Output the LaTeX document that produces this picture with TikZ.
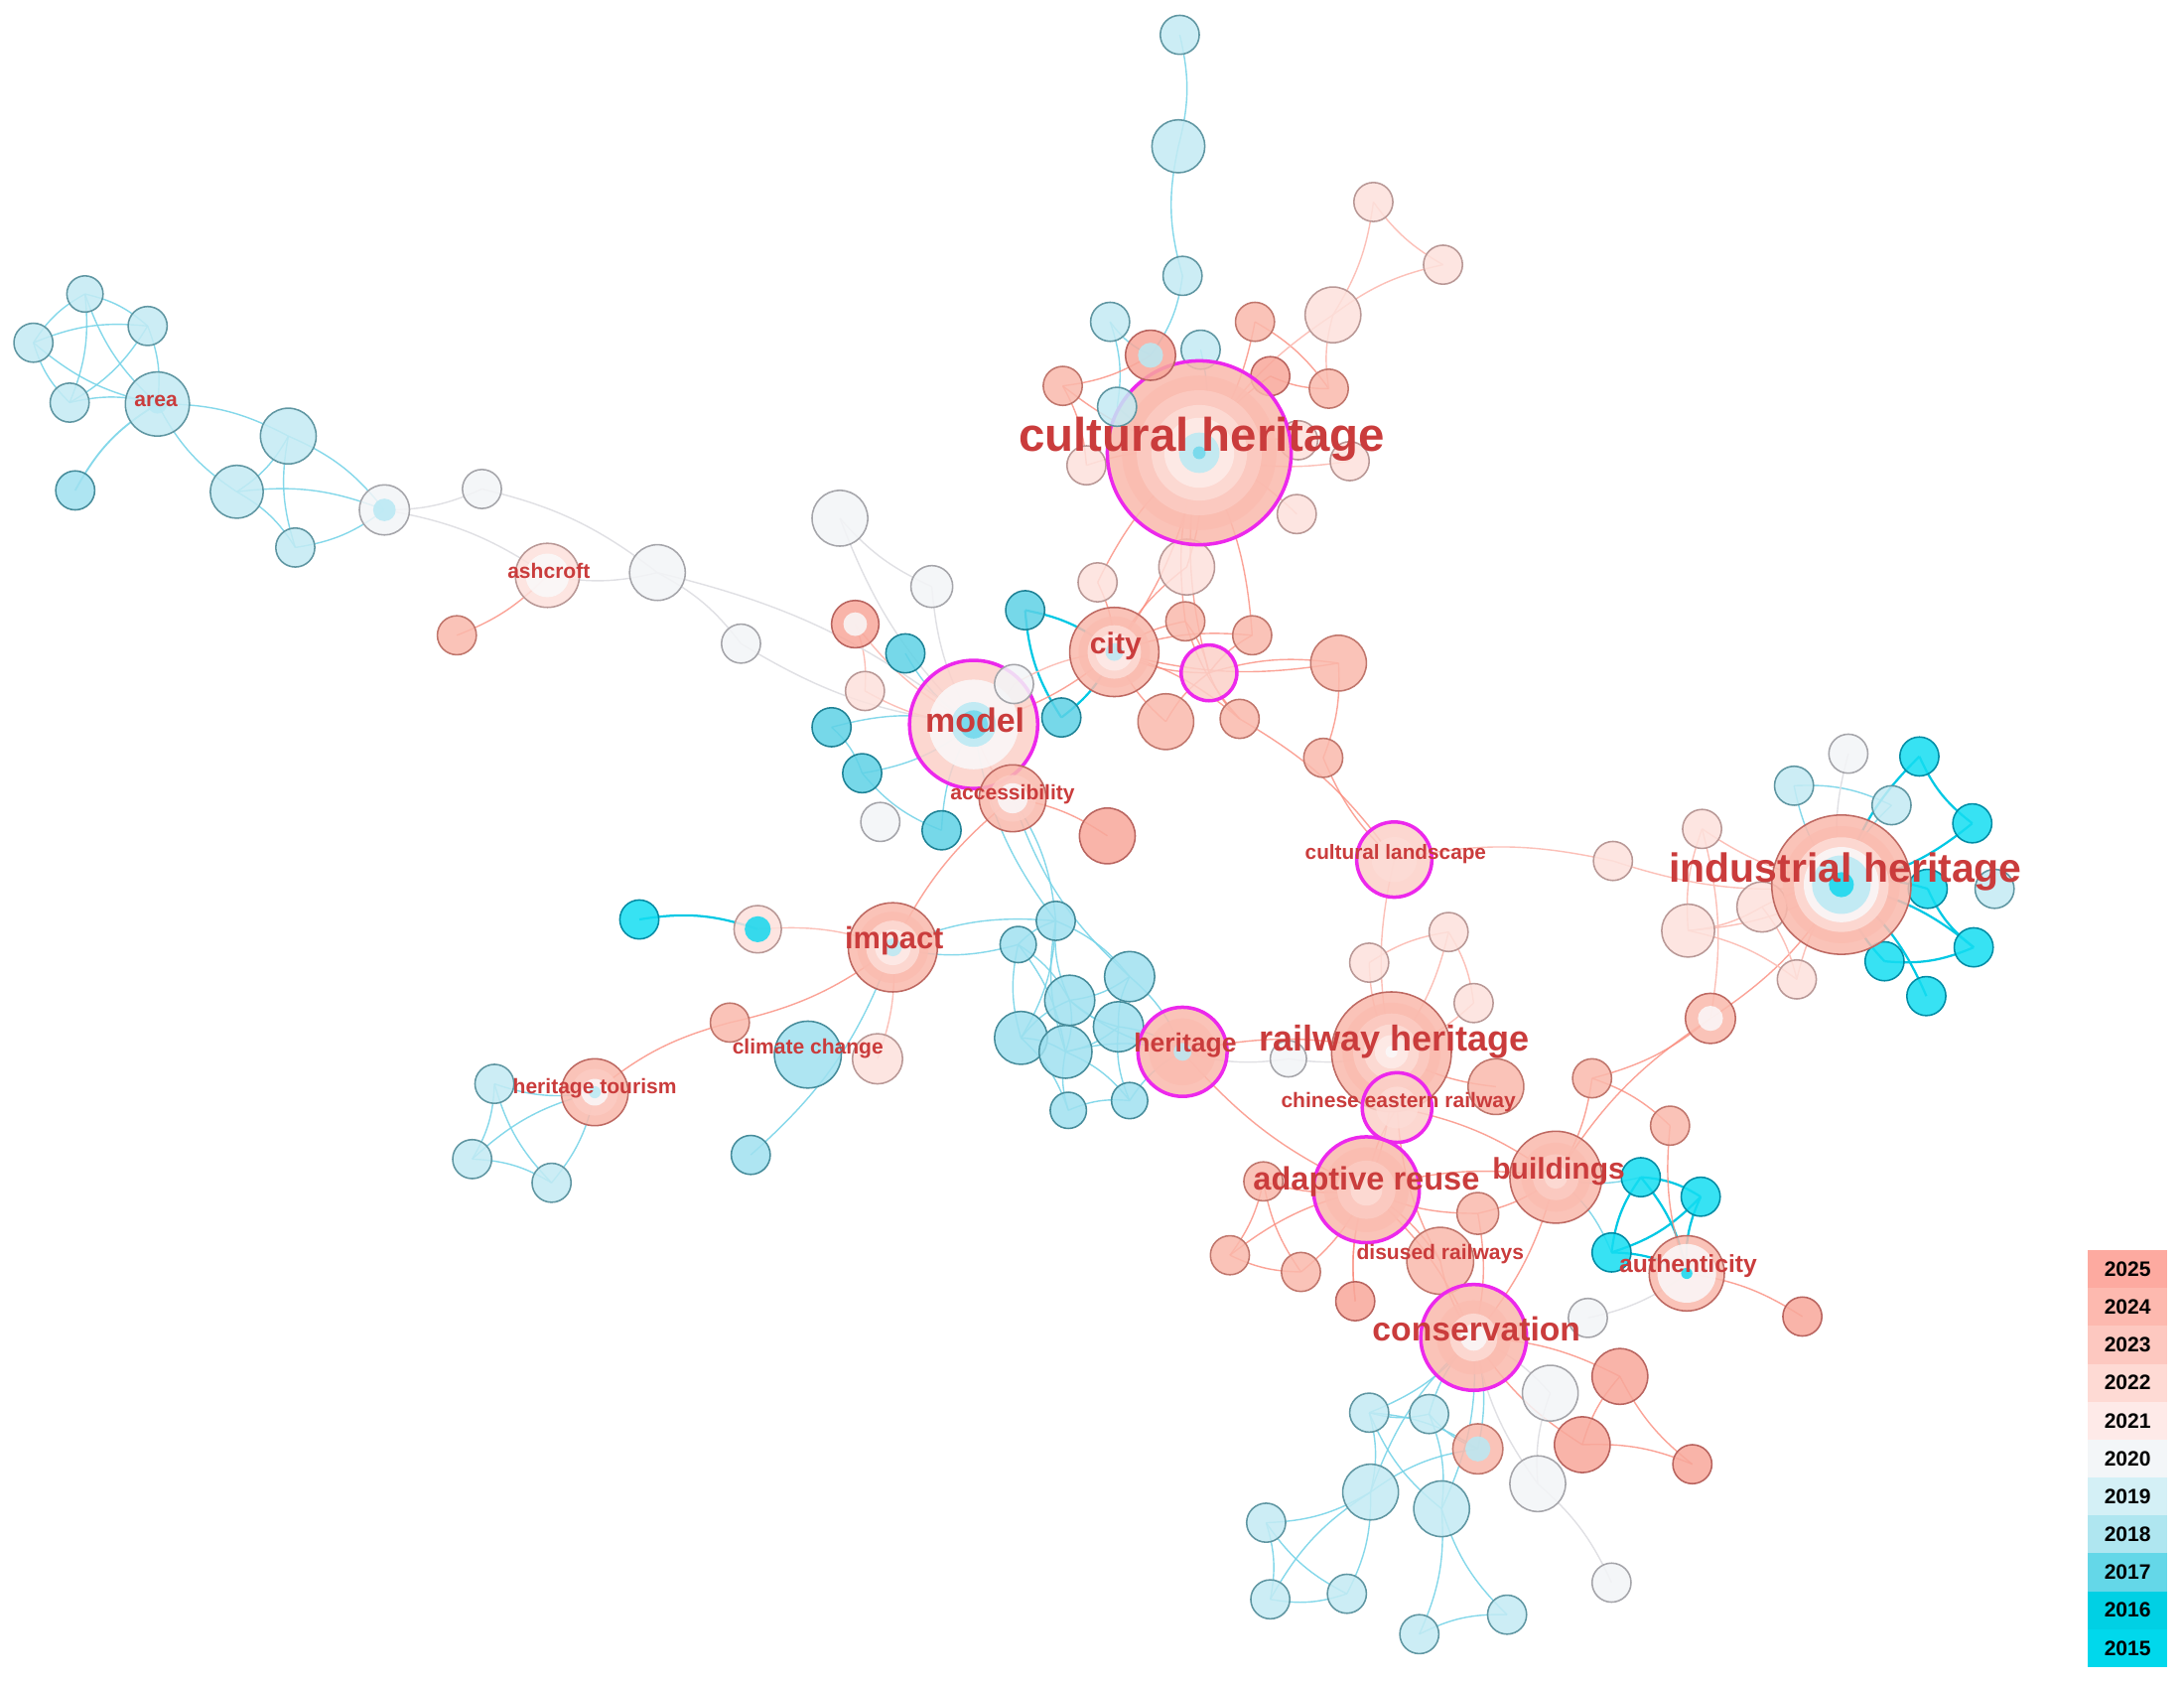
\documentclass[tikz,border=0pt]{standalone}
\usepackage{fontspec}
\setmainfont{Liberation Sans}
\pgfdeclarelayer{bgl}\pgfdeclarelayer{edl}\pgfsetlayers{bgl,edl,main}
% ring / legend colours
\definecolor{R25}{RGB}{250,172,158}
\definecolor{R24}{RGB}{251,188,176}
\definecolor{R23}{RGB}{252,204,195}
\definecolor{R22}{RGB}{253,220,214}
\definecolor{R21}{RGB}{254,236,233}
\definecolor{WW}{RGB}{250,249,250}
\definecolor{LB}{RGB}{185,233,244}
\definecolor{CY}{RGB}{110,216,236}
\definecolor{CYS}{RGB}{20,215,238}
\definecolor{L25}{RGB}{253,170,160}
\definecolor{L24}{RGB}{253,185,175}
\definecolor{L23}{RGB}{253,200,192}
\definecolor{L22}{RGB}{254,218,212}
\definecolor{L21}{RGB}{254,234,232}
\definecolor{L20}{RGB}{243,246,248}
\definecolor{L19}{RGB}{212,240,246}
\definecolor{L18}{RGB}{175,230,240}
\definecolor{L17}{RGB}{100,215,232}
\definecolor{L16}{RGB}{0,208,228}
\definecolor{L15}{RGB}{0,216,236}
\definecolor{labred}{RGB}{202,60,60}
\definecolor{magen}{RGB}{236,40,236}
\newcommand\nd[5]{\node[#1,minimum size={2*#5pt}] (#2) at (#3,#4) {};}
\newcommand\rn[6]{\node[#1,minimum size={2*#5pt}] (#2) at (#3,#4) {};
  \foreach \rf/\rc in {#6}{\fill[\rc,fill opacity=0.85] (#3,#4) circle[radius={\rf*#5pt}];}}
\begin{document}
\begin{tikzpicture}[x=1pt,y=-1pt,
  base/.style={circle,inner sep=0pt,outer sep=0pt,line width=1.1pt,fill opacity=0.85},
  ns/.style={base,fill={rgb,255:red,250;green,185;blue,172},draw={rgb,255:red,192;green,118;blue,108}},
  ns5/.style={base,fill={rgb,255:red,248;green,168;blue,155},draw={rgb,255:red,185;green,100;blue,95}},
  np/.style={base,fill={rgb,255:red,253;green,225;blue,220},draw={rgb,255:red,185;green,152;blue,150}},
  npm/.style={base,fill={rgb,255:red,252;green,208;blue,200},draw=magen,line width=2.5pt},
  ng/.style={base,fill={rgb,255:red,243;green,245;blue,247},draw={rgb,255:red,165;green,165;blue,170}},
  nb/.style={base,fill={rgb,255:red,196;green,235;blue,244},draw={rgb,255:red,95;green,150;blue,162}},
  nb8/.style={base,fill={rgb,255:red,160;green,225;blue,240},draw={rgb,255:red,70;green,140;blue,155}},
  nc7/.style={base,fill={rgb,255:red,95;green,210;blue,230},draw={rgb,255:red,30;green,130;blue,150}},
  nc/.style={base,fill={rgb,255:red,20;green,222;blue,242},draw={rgb,255:red,0;green,140;blue,165}},
  dk/.style={draw={rgb,255:red,190;green,105;blue,98}},
  mag/.style={draw=magen,line width=2.5pt},
  es/.style={draw={rgb,255:red,250;green,140;blue,125},line width=1pt,draw opacity=0.8},
  ep/.style={draw={rgb,255:red,252;green,192;blue,184},line width=1pt},
  eg/.style={draw={rgb,255:red,224;green,224;blue,228},line width=1pt},
  eb/.style={draw={rgb,255:red,120;green,212;blue,232},line width=1pt,draw opacity=0.9},
  ec/.style={draw={rgb,255:red,0;green,200;blue,228},line width=1.6pt},
  lab/.style={text=labred,inner sep=0pt,font=\bfseries},
  leg/.style={minimum width=57pt,minimum height=27.2pt,inner sep=0pt,text=black,
    font=\fontsize{15}{15}\selectfont\bfseries}]
\useasboundingbox (0,0) rectangle (1568,1208);
\begin{pgfonlayer}{bgl}\fill[white] (0,0) rectangle (1568,1208);\end{pgfonlayer}

% ---------- top chain and cultural heritage cluster
\nd{nb}{a1}{847}{25}{14}
\nd{nb}{a2}{846}{105}{19}
\nd{nb}{a3}{849}{198}{14}
\nd{nb}{n5}{797}{231}{14}
\nd{nb}{n7}{862}{251}{14}
\nd{ns}{n8}{763}{277}{14}
\nd{ns}{n10}{901}{231}{14}
\nd{ns5}{n11}{912}{270}{14}
\nd{ns}{n12}{954}{279}{14}
\nd{np}{n13}{957}{226}{20}
\nd{np}{n14}{986}{145}{14}
\nd{np}{n15}{1036}{190}{14}
\nd{np}{n16}{780}{334}{14}
\nd{np}{n17}{932}{316}{14}
\nd{np}{n18}{969}{331}{14}
\nd{np}{n19}{931}{369}{14}
\nd{np}{n20}{852}{407}{20}
\nd{np}{n21}{788}{418}{14}
\rn{ns,mag}{CH}{861}{325}{66}{0.84/R24,0.68/R23,0.52/R22,0.38/R21,0.22/LB,0.07/CY}
\rn{ns5}{n6}{826}{255}{18}{0.5/LB}
\nd{nb}{n9}{802}{292}{14}

% ---------- city cluster
\nd{ns}{n22}{851}{446}{14}
\nd{ns}{n23}{899}{456}{14}
\nd{npm}{n24}{868}{483}{20}
\nd{ns}{n25}{961}{476}{20}
\nd{ns}{n26}{837}{518}{20}
\nd{ns}{n27}{890}{516}{14}
\nd{ns}{n28}{950}{544}{14}
\nd{nc7}{n29}{736}{438}{14}
\nd{nc7}{n30}{762}{515}{14}
\rn{ns,dk}{city}{800}{468}{32}{0.8/R24,0.6/R22,0.42/R21,0.2/LB}

% ---------- model cluster
\nd{ng}{n31}{603}{372}{20}
\nd{ng}{n32}{669}{421}{15}
\rn{ns5}{n33}{614}{448}{17}{0.5/WW}
\nd{ng}{n34}{532}{462}{14}
\nd{nc7}{n35}{650}{469}{14}
\nd{np}{n36}{621}{496}{14}
\nd{nc7}{n37}{597}{522}{14}
\nd{nc7}{n39}{619}{555}{14}
\nd{ng}{n40}{632}{590}{14}
\nd{nc7}{n41}{676}{596}{14}
\nd{ng}{n43}{472}{411}{20}
\nd{ng}{n44}{346}{351}{14}
\rn{npm}{model}{699}{520}{46}{0.7/WW,0.35/LB,0.22/CY}
\nd{ng}{n38}{728}{491}{14}
\rn{ns,dk}{acc}{727}{573}{24}{0.7/R23,0.45/WW}
\nd{ns5}{n42}{795}{600}{20}

% ---------- area and ashcroft
\nd{nb}{n45}{61}{211}{13}
\nd{nb}{n46}{106}{234}{14}
\nd{nb}{n47}{24}{246}{14}
\nd{nb}{n48}{50}{289}{14}
\nd{nb8}{n49}{54}{352}{14}
\nd{nb}{n50}{207}{313}{20}
\nd{nb}{n51}{170}{353}{19}
\nd{nb}{n52}{212}{393}{14}
\rn{ng}{n53}{276}{366}{18}{0.45/LB}
\rn{nb}{area}{113}{290}{23}{0.3/LB}
\rn{np}{ashcroft}{393}{413}{23}{0.68/WW}
\nd{ns}{n54}{328}{456}{14}

% ---------- impact and heritage tourism
\nd{nc}{n55}{459}{660}{14}
\rn{np}{n56}{544}{667}{17}{0.55/CYS}
\nd{ns}{n57}{524}{734}{14}
\nd{nb8}{n58}{580}{757}{24}
\nd{np}{n59}{630}{760}{18}
\nd{nb8}{n60}{539}{829}{14}
\rn{ns,dk}{impact}{641}{680}{32}{0.8/R24,0.6/R22,0.4/R21,0.2/LB}
\nd{nb}{n61}{355}{778}{14}
\nd{nb}{n62}{339}{832}{14}
\nd{nb}{n63}{396}{849}{14}
\rn{ns,dk}{ht}{427}{784}{24}{0.7/R23,0.4/WW,0.18/LB}

% ---------- heritage blue cluster
\nd{nb8}{n64}{758}{661}{14}
\nd{nb8}{n65}{731}{678}{13}
\nd{nb8}{n66}{811}{701}{18}
\nd{nb8}{n67}{768}{718}{18}
\nd{nb8}{n68}{733}{745}{19}
\nd{nb8}{n69}{765}{755}{19}
\nd{nb8}{n70}{803}{737}{18}
\nd{nb8}{n71}{767}{797}{13}
\nd{nb8}{n72}{811}{790}{13}
\rn{ns,mag}{her}{849}{755}{32}{0.75/R24,0.2/LB}

% ---------- railway heritage / cultural landscape
\nd{ng}{n73}{925}{760}{13}
\nd{np}{n75}{1040}{669}{14}
\nd{np}{n76}{983}{691}{14}
\nd{np}{n77}{1058}{720}{14}
\rn{ns,dk}{rh}{999}{755}{43}{0.82/R24,0.64/R23,0.46/R22,0.28/R21,0.1/WW}
\nd{ns}{n74}{1074}{780}{20}
\rn{npm}{cer}{1003}{795}{25}{0.6/R22}
\rn{npm}{cl}{1001}{617}{27}{0.6/R22}
\nd{np}{n78}{1158}{618}{14}

% ---------- industrial heritage
\nd{nb}{n79}{1288}{564}{14}
\nd{ng}{n80}{1327}{541}{14}
\nd{nc}{n81}{1378}{543}{14}
\nd{nb}{n82}{1358}{578}{14}
\nd{nc}{n83}{1416}{591}{14}
\nd{nc}{n84}{1384}{638}{14}
\nd{nb}{n85}{1432}{638}{14}
\nd{nc}{n86}{1417}{680}{14}
\nd{nc}{n87}{1353}{690}{14}
\nd{nc}{n88}{1383}{715}{14}
\nd{np}{n89}{1222}{595}{14}
\nd{np}{n90}{1265}{651}{18}
\nd{np}{n91}{1212}{668}{19}
\nd{np}{n92}{1290}{703}{14}
\rn{ns,dk}{n93}{1228}{731}{18}{0.5/WW}
\rn{ns,dk}{ih}{1322}{635}{50}{0.84/R24,0.68/R22,0.54/WW,0.42/LB,0.18/CYS}

% ---------- adaptive reuse / buildings / authenticity
\nd{ns}{n94}{907}{848}{14}
\nd{ns}{n95}{883}{901}{14}
\nd{ns}{n96}{934}{913}{14}
\nd{ns5}{n97}{973}{934}{14}
\nd{ns}{n98}{1034}{905}{24}
\nd{ns}{n99}{1061}{871}{15}
\rn{ns,mag}{ar}{981}{854}{38}{0.8/R24,0.55/R23,0.3/R22}
\nd{ns}{n100}{1143}{774}{14}
\nd{ns}{n101}{1199}{808}{14}
\rn{ns,dk}{bld}{1117}{845}{33}{0.75/R24,0.5/R23,0.25/R22}
\nd{nc}{n102}{1178}{845}{14}
\nd{nc}{n103}{1221}{859}{14}
\nd{nc}{n104}{1157}{899}{14}
\rn{ns,dk}{auth}{1211}{914}{27}{0.78/WW,0.15/CYS}
\nd{ns5}{n105}{1294}{945}{14}
\nd{ng}{n106}{1140}{946}{14}

% ---------- conservation
\rn{ns,mag}{cons}{1058}{960}{38}{0.7/R24,0.45/R22,0.25/WW}
\nd{ng}{n107}{1113}{1000}{20}
\nd{ns5}{n108}{1163}{988}{20}
\nd{ns5}{n109}{1136}{1037}{20}
\nd{ns5}{n110}{1215}{1051}{14}
\nd{ng}{n111}{1104}{1065}{20}
\nd{ng}{n112}{1157}{1136}{14}
\nd{nb}{n113}{983}{1014}{14}
\nd{nb}{n114}{1026}{1015}{14}
\rn{ns}{n115}{1061}{1040}{18}{0.5/LB}
\nd{nb}{n116}{984}{1071}{20}
\nd{nb}{n117}{1035}{1083}{20}
\nd{nb}{n118}{909}{1093}{14}
\nd{nb}{n119}{912}{1148}{14}
\nd{nb}{n120}{967}{1144}{14}
\nd{nb}{n121}{1019}{1173}{14}
\nd{nb}{n122}{1082}{1159}{14}

% ---------- edges
\begin{pgfonlayer}{edl}
\foreach \a/\b in {a1/a2,a3/n6,n5/n9,n7/CH,
  area/n45,area/n47,n45/n46,n45/n48,n47/n46,area/n50,n50/n51,n51/n52,n51/n53,n50/n53,
  model/n35,model/n39,n37/n39,acc/n64,impact/n64,impact/n60,
  ht/n61,ht/n63,n61/n62,n62/n63,
  n64/n66,n64/n68,n65/n67,n65/n69,n66/n67,n66/her,n67/n69,n68/n69,n68/n71,n69/n72,n70/her,n71/n72,n72/her,n69/her,
  ih/n79,n79/n82,cons/n113,cons/n115,cons/n117,n113/n115,n113/n116,n114/n117,n116/n118,n116/n120,n118/n119,n117/n121,n121/n122,bld/n104}
  \draw[eb] (\a.center) to[bend left=14] (\b.center);
\foreach \a/\b in {a2/a3,n5/n6,n9/CH,
  area/n46,area/n48,n45/n47,n47/n48,n48/n46,area/n51,n50/n52,n52/n53,
  model/n37,model/n41,n39/n41,model/n64,acc/n66,impact/n65,ht/n62,n61/n63,
  n64/n65,n64/n67,n64/n69,n65/n68,n66/n70,n67/n68,n67/n70,n69/n70,n69/n71,n70/n72,n67/her,
  n82/ih,bld/n102,cons/n114,cons/n116,n113/n114,n114/n115,n115/n116,n116/n119,n118/n120,n119/n120,n117/n122,n113/n117}
  \draw[eb] (\a.center) to[bend right=14] (\b.center);
\draw[eb,line width=1.3pt] (area.center) to[bend right=15] (n49.center);
\foreach \a/\b in {n55/n56,n29/city,ih/n81,ih/n84,ih/n86,n86/n87,ih/n88,n102/n103,n103/n104,n102/auth,n104/auth}
  \draw[ec] (\a.center) to[bend left=14] (\b.center);
\foreach \a/\b in {n29/n30,n30/city,n81/n83,ih/n83,n84/n86,ih/n87,n102/n104,n103/auth}
  \draw[ec] (\a.center) to[bend right=14] (\b.center);
\foreach \a/\b in {CH/n8,n8/n16,CH/n11,n10/n12,CH/n20,CH/city,n21/city,CH/n23,
  city/n22,city/n23,city/n27,n22/n24,n24/n25,n26/n24,n27/cl,n25/n28,
  city/model,acc/n42,ashcroft/n54,impact/n57,her/rh,rh/cer,rh/ar,cer/bld,ih/n93,n93/n100,
  ar/n94,ar/n96,ar/n98,ar/bld,n94/n95,ar/cons,bld/cons,n100/n101,auth/n105,n99/cons,
  cons/n108,n109/n110,n97/ar}
  \draw[es] (\a.center) to[bend left=12] (\b.center);
\foreach \a/\b in {n8/n6,CH/n10,n11/n12,n20/city,CH/n21,CH/n22,CH/n24,
  city/n24,city/n26,city/n25,n22/n27,n24/n27,n23/n24,n28/cl,
  model/acc,acc/impact,n57/ht,her/ar,rh/n74,cer/ar,cer/n98,n93/bld,
  ar/n95,ar/n97,ar/n99,n95/n96,n94/n96,n98/cons,bld/n100,n101/auth,n99/bld,n108/n109,n108/n110,cons/n109}
  \draw[es] (\a.center) to[bend right=12] (\b.center);
\foreach \a/\b in {CH/n13,n13/n15,CH/n17,CH/n19,n12/n13,model/n36,model/n33,impact/n59,
  rh/cl,rh/n76,n75/n77,cl/n78,ih/n89,ih/n91,n89/n93,n91/n92,n90/n92}
  \draw[ep] (\a.center) to[bend left=12] (\b.center);
\foreach \a/\b in {n13/n14,n14/n15,CH/n18,CH/n16,city/n38,n36/n33,impact/n56,
  rh/n75,rh/n77,n75/n76,n78/ih,ih/n90,ih/n92,n89/n91,n91/n90}
  \draw[ep] (\a.center) to[bend right=12] (\b.center);
\foreach \a/\b in {model/n32,n43/model,n44/n43,n53/ashcroft,n43/n34,ih/n80,rh/n73,auth/n106,cons/n107,n111/n112}
  \draw[eg] (\a.center) to[bend left=12] (\b.center);
\foreach \a/\b in {n31/model,n34/model,n53/n44,ashcroft/n43,n31/n32,her/n73,n107/n111,cons/n111,model/n38}
  \draw[eg] (\a.center) to[bend right=12] (\b.center);
\end{pgfonlayer}

% ---------- labels
\node[lab,font=\fontsize{33.8}{36}\selectfont\bfseries] (tCH) at (863,315) {cultural heritage};
\node[lab,font=\fontsize{29.2}{31}\selectfont\bfseries] (tIH) at (1325,626) {industrial heritage};
\node[lab,font=\fontsize{25.7}{28}\selectfont\bfseries] (tRH) at (1001,748) {railway heritage};
\node[lab,font=\fontsize{23.2}{25}\selectfont\bfseries] (tAR) at (981,848) {adaptive reuse};
\node[lab,font=\fontsize{24}{26}\selectfont\bfseries] (tCO) at (1060,954) {conservation};
\node[lab,font=\fontsize{21.4}{23}\selectfont\bfseries] (tBL) at (1119,841) {buildings};
\node[lab,font=\fontsize{24.2}{26}\selectfont\bfseries] (tMO) at (700,517) {model};
\node[lab,font=\fontsize{22}{24}\selectfont\bfseries] (tIM) at (642,675) {impact};
\node[lab,font=\fontsize{21.4}{23}\selectfont\bfseries] (tCI) at (801,464) {city};
\node[lab,font=\fontsize{18.9}{20}\selectfont\bfseries] (tHE) at (851,750) {heritage};
\node[lab,font=\fontsize{14.8}{16}\selectfont\bfseries] (tCL) at (1002,613) {cultural landscape};
\node[lab,font=\fontsize{15}{16}\selectfont\bfseries] (tCE) at (1004,791) {chinese eastern railway};
\node[lab,font=\fontsize{15}{16}\selectfont\bfseries] (tDR) at (1034,900) {disused railways};
\node[lab,font=\fontsize{17.6}{19}\selectfont\bfseries] (tAU) at (1212,909) {authenticity};
\node[lab,font=\fontsize{15}{16}\selectfont\bfseries] (tAC) at (727,570) {accessibility};
\node[lab,font=\fontsize{15}{16}\selectfont\bfseries] (tCC) at (580,753) {climate change};
\node[lab,font=\fontsize{15}{16}\selectfont\bfseries] (tHT) at (427,781) {heritage tourism};
\node[lab,font=\fontsize{15}{16}\selectfont\bfseries] (tAS) at (394,410) {ashcroft};
\node[lab,font=\fontsize{15}{16}\selectfont\bfseries] (tAA) at (112,288) {area};

% ---------- legend
\node[leg,fill=L25] (lg25) at (1527.5,911) {2025};
\node[leg,fill=L24] (lg24) at (1527.5,938.2) {2024};
\node[leg,fill=L23] (lg23) at (1527.5,965.4) {2023};
\node[leg,fill=L22] (lg22) at (1527.5,992.6) {2022};
\node[leg,fill=L21] (lg21) at (1527.5,1019.8) {2021};
\node[leg,fill=L20] (lg20) at (1527.5,1047) {2020};
\node[leg,fill=L19] (lg19) at (1527.5,1074.2) {2019};
\node[leg,fill=L18] (lg18) at (1527.5,1101.4) {2018};
\node[leg,fill=L17] (lg17) at (1527.5,1128.6) {2017};
\node[leg,fill=L16] (lg16) at (1527.5,1155.8) {2016};
\node[leg,fill=L15] (lg15) at (1527.5,1183) {2015};
\end{tikzpicture}
\end{document}
